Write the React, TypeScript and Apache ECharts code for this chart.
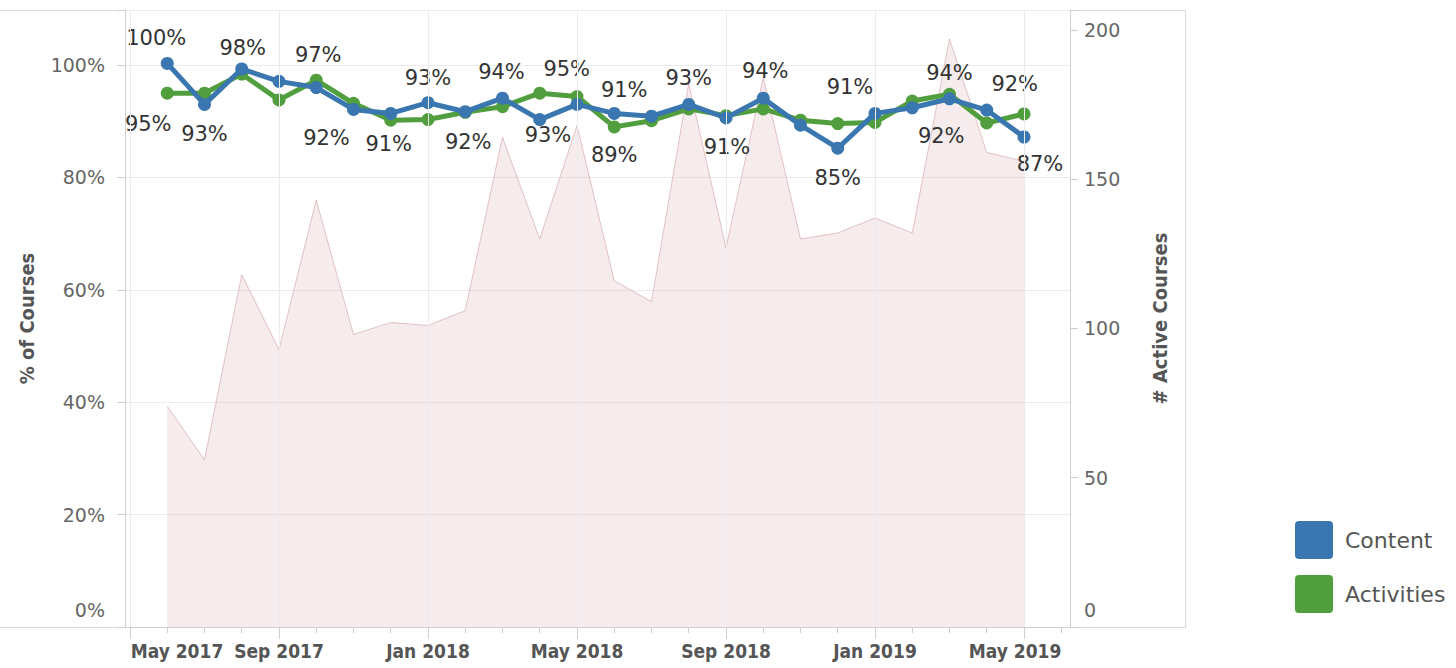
import React, { useEffect, useRef } from 'react';
import * as echarts from 'echarts';

// Full monthly calendar of the x axis (ticks every month)
const axisMonths = [
  'May 2017', 'Jun 2017', 'Jul 2017', 'Aug 2017', 'Sep 2017', 'Oct 2017', 'Nov 2017', 'Dec 2017',
  'Jan 2018', 'Feb 2018', 'Mar 2018', 'Apr 2018', 'May 2018', 'Jun 2018', 'Jul 2018', 'Aug 2018',
  'Sep 2018', 'Oct 2018', 'Nov 2018', 'Dec 2018', 'Jan 2019', 'Feb 2019', 'Mar 2019', 'Apr 2019',
  'May 2019', 'Jun 2019',
];
// Months with data
const months = [
  'Jun 2017', 'Jul 2017', 'Aug 2017', 'Sep 2017', 'Oct 2017', 'Nov 2017', 'Dec 2017',
  'Jan 2018', 'Feb 2018', 'Mar 2018', 'Apr 2018', 'May 2018', 'Jun 2018', 'Jul 2018', 'Aug 2018',
  'Sep 2018', 'Oct 2018', 'Nov 2018', 'Dec 2018', 'Jan 2019', 'Feb 2019', 'Mar 2019', 'Apr 2019',
  'May 2019',
];
const xTickLabels = ['May 2017', 'Sep 2017', 'Jan 2018', 'May 2018', 'Sep 2018', 'Jan 2019', 'May 2019'];

const contentPct = [
  100.3, 93.0, 99.3, 97.1, 96.0, 92.1, 91.4, 93.3, 91.7, 94.1, 90.3, 93.0,
  91.4, 90.9, 93.0, 90.6, 94.1, 89.3, 85.2, 91.4, 92.4, 94.0, 92.0, 87.2,
];
const activitiesPct = [
  95.0, 95.0, 98.4, 93.8, 97.3, 93.2, 90.2, 90.3, 91.6, 92.6, 95.0, 94.4,
  89.0, 90.1, 92.2, 91.0, 92.2, 90.2, 89.6, 89.8, 93.6, 94.8, 89.7, 91.3,
];
const activeCourses = [
  74, 56, 118, 93, 143, 98, 102, 101, 106, 164, 130, 168,
  116, 109, 182, 127, 184, 130, 132, 137, 132, 197, 159, 156,
];
const pctTicks = [0, 20, 40, 60, 80, 100];
const courseTicks = [0, 50, 100, 150, 200];

// label placement (data index -> [dx, dy] from the point)
const contentLabelOffsets: Record<number, [number, number]> = {
  0: [-11, -25], 1: [0, 30], 5: [-27, 29], 6: [-2, 31], 7: [0, -25], 8: [3, 30],
  9: [-1, -26], 11: [-29, 31], 12: [10, -23], 14: [0, -26], 15: [1, 29], 16: [2, -27],
  18: [0, 30], 19: [-25, -26], 20: [29, 28], 21: [0, -26], 22: [28, -26], 23: [16, 27],
};
const activitiesLabelOffsets: Record<number, [number, number]> = {
  0: [-19, 31], 2: [1, -26], 4: [2, -25], 10: [27, -24], 12: [0, 28],
};

const FONT = "'DejaVu Sans', sans-serif";
const FONT_C = "'DejaVu Sans Condensed', 'DejaVu Sans', sans-serif";
const BLUE = '#3a76af';
const GREEN = '#519e3e';
const LEGEND_ICON = 'path://M4,0 H34 Q38,0 38,4 V34 Q38,38 34,38 H4 Q0,38 0,34 V4 Q0,0 4,0 Z';

const idx = (m: string) => axisMonths.indexOf(m);

function lineData(values: number[], offsets: Record<number, [number, number]>) {
  return months.map((m, i) => {
    const off = offsets[i];
    if (!off) return { value: [idx(m), values[i]] };
    return {
      value: [idx(m), values[i]],
      label: { show: true, position: 'inside', offset: off },
    };
  });
}

const dataLabel = {
  show: false,
  fontFamily: FONT,
  fontSize: 21,
  color: '#333',
  formatter: (p: any) => Math.round(p.value[1]) + '%',
};

export default function App() {
  const ref = useRef<HTMLDivElement>(null);
  useEffect(() => {
    if (!ref.current) return;
    const chart = echarts.init(ref.current, undefined, { renderer: 'svg' });
    const xMin = -0.134;
    const xMax = 25.235;
    const gridCol = '#ebebeb';
    const axisCol = '#cfcfcf';
    chart.setOption({
      animation: false,
      backgroundColor: '#ffffff',
      grid: { left: 125, right: 386, top: 10, bottom: 41, containLabel: false },
      legend: {
        data: ['Content', 'Activities'],
        orient: 'vertical',
        left: 1290,
        top: 516,
        icon: LEGEND_ICON,
        itemWidth: 38,
        itemHeight: 38,
        itemGap: 16,
        textStyle: { fontFamily: FONT, fontSize: 22, color: '#555', padding: [0, 0, 0, 7] },
      },
      xAxis: [
        {
          type: 'value',
          min: xMin,
          max: xMax,
          position: 'bottom',
          axisLine: { show: true, onZero: false, lineStyle: { color: axisCol } },
          axisTick: {
            show: true,
            length: 12,
            customValues: xTickLabels.map(idx),
            lineStyle: { color: axisCol },
          },
          splitLine: { show: false },
          axisLabel: {
            customValues: xTickLabels.map(idx),
            margin: 14,
            formatter: (v: number) => {
              const name = axisMonths[Math.round(v)];
              if (Math.round(v) === 0) return '{first|' + name + '}';
              if (Math.round(v) === 24) return '{last|' + name + '}';
              return '{b|' + name + '}';
            },
            rich: {
              b: { fontFamily: FONT_C, fontWeight: 'bold', fontSize: 19, color: '#555' },
              first: { fontFamily: FONT_C, fontWeight: 'bold', fontSize: 19, color: '#555', padding: [0, 0, 0, 94] },
              last: { fontFamily: FONT_C, fontWeight: 'bold', fontSize: 19, color: '#555', padding: [0, 18, 0, 0] },
            },
          },
        },
        {
          type: 'value',
          min: xMin,
          max: xMax,
          position: 'bottom',
          axisLine: { show: false, onZero: false },
          axisTick: {
            show: true,
            length: 6,
            customValues: axisMonths.map((_, i) => i),
            lineStyle: { color: axisCol },
          },
          axisLabel: { show: false },
          splitLine: { show: false },
        },
      ],
      yAxis: [
        {
          type: 'value',
          position: 'left',
          min: 0,
          max: 109.8,
          interval: 20,
          name: '% of Courses',
          nameLocation: 'middle',
          nameRotate: 90,
          nameGap: 88,
          nameTextStyle: { fontFamily: FONT_C, fontWeight: 'bold', fontSize: 20, color: '#555' },
          axisLine: { show: true, onZero: false, lineStyle: { color: axisCol } },
          axisTick: { show: true, length: 8, lineStyle: { color: axisCol } },
          splitLine: { show: true, lineStyle: { color: gridCol } },
          axisLabel: {
            margin: 20,
            formatter: (v: number) => {
              if (!pctTicks.includes(v)) return '';
              if (v === 0) return '{z|0%}';
              return '{n|' + v + '%}';
            },
            rich: {
              n: { fontFamily: FONT, fontSize: 19, color: '#666' },
              z: { fontFamily: FONT, fontSize: 19, color: '#666', padding: [0, 0, 34, 0] },
            },
          },
        },
        {
          type: 'value',
          position: 'right',
          min: 0,
          max: 206.7,
          interval: 50,
          name: '# Active Courses',
          nameLocation: 'middle',
          nameRotate: 90,
          nameGap: 80,
          nameTextStyle: { fontFamily: FONT_C, fontWeight: 'bold', fontSize: 20, color: '#555' },
          axisLine: { show: true, onZero: false, lineStyle: { color: axisCol } },
          axisTick: { show: true, length: 8, lineStyle: { color: axisCol } },
          splitLine: { show: false },
          axisLabel: {
            margin: 14,
            formatter: (v: number) => {
              if (!courseTicks.includes(v)) return '';
              if (v === 0) return '{z|0}';
              return '{n|' + v + '}';
            },
            rich: {
              n: { fontFamily: FONT, fontSize: 19, color: '#666' },
              z: { fontFamily: FONT, fontSize: 19, color: '#666', padding: [0, 0, 34, 0] },
            },
          },
        },
      ],
      graphic: [
        { type: 'line', shape: { x1: 0, y1: 10.5, x2: 1185, y2: 10.5 }, style: { stroke: '#dcdcdc', lineWidth: 1 }, silent: true },
        { type: 'line', shape: { x1: 0, y1: 627.5, x2: 1185, y2: 627.5 }, style: { stroke: '#dcdcdc', lineWidth: 1 }, silent: true },
        { type: 'line', shape: { x1: 1185.5, y1: 10, x2: 1185.5, y2: 628 }, style: { stroke: '#dcdcdc', lineWidth: 1 }, silent: true },
      ],
      series: [
        {
          name: 'Active Courses',
          type: 'line',
          yAxisIndex: 1,
          xAxisIndex: 0,
          data: months.map((m, i) => [idx(m), activeCourses[i]]),
          symbol: 'none',
          lineStyle: { color: 'rgba(205,150,155,0.55)', width: 1 },
          areaStyle: { color: 'rgba(212,165,168,0.3)', origin: 'start' },
          z: 1,
          silent: true,
          markLine: {
            silent: true,
            symbol: 'none',
            label: { show: false },
            lineStyle: { color: gridCol, type: 'solid', width: 1 },
            data: xTickLabels.map((m) => ({ xAxis: idx(m) })),
          },
        },
        {
          name: 'Activities',
          type: 'line',
          yAxisIndex: 0,
          xAxisIndex: 0,
          data: lineData(activitiesPct, activitiesLabelOffsets),
          symbol: 'circle',
          symbolSize: 13,
          showAllSymbol: true,
          lineStyle: { color: GREEN, width: 5 },
          itemStyle: { color: GREEN },
          label: dataLabel,
          z: 3,
          emphasis: { disabled: true },
        },
        {
          name: 'Content',
          type: 'line',
          yAxisIndex: 0,
          xAxisIndex: 0,
          data: lineData(contentPct, contentLabelOffsets),
          symbol: 'circle',
          symbolSize: 13,
          showAllSymbol: true,
          lineStyle: { color: BLUE, width: 5 },
          itemStyle: { color: BLUE },
          label: dataLabel,
          z: 4,
          emphasis: { disabled: true },
        },
      ],
    });
    return () => chart.dispose();
  }, []);
  return (
    <div
      ref={ref}
      style={{ position: 'absolute', left: 0, top: 0, width: 1456, height: 668 }}
    />
  );
}
